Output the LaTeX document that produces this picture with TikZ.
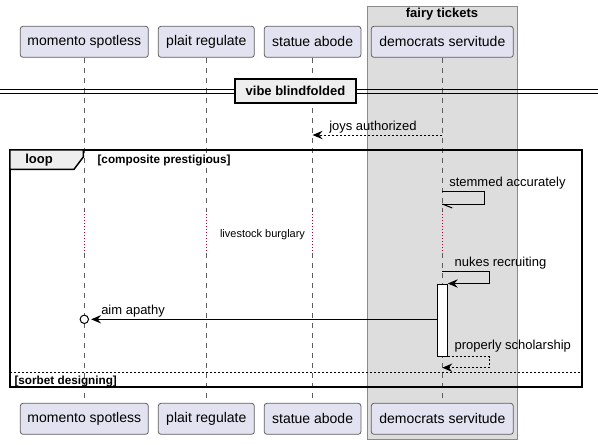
\documentclass[tikz,border=0pt]{standalone}
\usepackage{fontspec}
\setmainfont{Liberation Sans}
\usetikzlibrary{arrows.meta}

\definecolor{partfill}{HTML}{E2E2F0}
\definecolor{partline}{HTML}{5E5E5E}
\definecolor{groupfill}{HTML}{DDDDDD}
\definecolor{groupline}{HTML}{8A8A8A}
\definecolor{tabfill}{HTML}{EEEEEE}
\definecolor{delayred}{HTML}{A80036}

\tikzset{
  participant/.style={draw=partline, fill=partfill, rounded corners=2pt, line width=0.6pt,
    minimum height=23.25pt, inner sep=0pt, font=\fontsize{10.5}{12}\selectfont},
  lifeline/.style={draw=partline, line width=0.5pt, dash pattern=on 3.75pt off 3.75pt},
  delayline/.style={draw=delayred, line width=0.6pt, dash pattern=on 0.6pt off 1.65pt},
  msg/.style={line width=0.75pt, ->},
  msgtext/.style={anchor=west, inner sep=0pt, font=\fontsize{9.75}{11}\selectfont},
  guard/.style={anchor=west, inner sep=0pt, font=\fontsize{8.8}{10}\selectfont\bfseries},
}

\begin{document}
\begin{tikzpicture}[x=0.75pt,y=0.75pt,yscale=-1,xscale=1,
  >={Stealth[length=7.5pt,width=6.3pt,inset=2.6pt]}]
\useasboundingbox (0,0) rectangle (598,444);

%Shape: Box [fairy tickets]
\draw [draw=groupline, fill=groupfill, line width=0.6pt] (367.7,6) rectangle (517,439.5);
\node [inner sep=0pt, font=\fontsize{9.75}{11}\selectfont\bfseries] (fairy) at (442,14.2) {fairy tickets};

% Participants (top and bottom)
\node [participant, minimum width=96pt] (top-mom) at (84.3,41.8) {momento spotless};
\node [participant, minimum width=72pt] (top-plait) at (206.3,41.8) {plait regulate};
\node [participant, minimum width=72.5pt] (top-statue) at (312.6,41.8) {statue abode};
\node [participant, minimum width=106.5pt] (top-dem) at (442.3,41.8) {democrats servitude};
\node [participant, minimum width=96pt] (bot-mom) at (84.3,418.8) {momento spotless};
\node [participant, minimum width=72pt] (bot-plait) at (206.3,418.8) {plait regulate};
\node [participant, minimum width=72.5pt] (bot-statue) at (312.6,418.8) {statue abode};
\node [participant, minimum width=106.5pt] (bot-dem) at (442.3,418.8) {democrats servitude};

% Lifelines, broken by the delay
\foreach \p in {mom,plait,statue,dem} {
  \draw [lifeline] (top-\p.south) -- (top-\p.south |- 0,211);
  \draw [delayline] (top-\p.south |- 0,211) -- (top-\p.south |- 0,253);
  \draw [lifeline] (top-\p.south |- 0,253) -- (bot-\p.north);
}

%Divider [vibe blindfolded]
\draw [line width=0.75pt] (0,89.5) -- (598,89.5);
\draw [line width=0.75pt] (0,93) -- (598,93);
\node [draw, fill=tabfill, line width=1.4pt, minimum width=90.75pt, minimum height=18.5pt,
  inner sep=0pt, font=\fontsize{9.75}{11}\selectfont\bfseries] (vibe) at (295.5,91) {vibe blindfolded};

%Message [joys authorized]
\coordinate (joys-from) at (top-dem.south |- 0,135);
\coordinate (joys-to) at (top-statue.south |- 0,135);
\draw [msg, dash pattern=on 1.5pt off 1.5pt] (joys-from) -- (joys-to);
\node [msgtext] (joys) at (329,127) {joys authorized};

%Frame [loop]
\draw [line width=1.1pt] (10,150) rectangle (582,387);
\draw [fill=tabfill, line width=1.1pt] (10,150) -- (83.3,150) -- (83.3,157) -- (74,169.3) -- (10,169.3) -- cycle;
\node [inner sep=0pt, font=\fontsize{9.75}{11}\selectfont\bfseries] (loop) at (39,160.3) {loop};
\node [guard] (composite) at (97.3,160.8) {[composite prestigious]};

%Self message [stemmed accurately]
\coordinate (stem-from) at (top-dem.south |- 0,191);
\coordinate (stem-to) at (top-dem.south |- 0,204);
\draw [line width=0.75pt] (stem-from) -- ++(42,0) |- (stem-to);
\draw [line width=0.75pt] (stem-to) -- ++(10,4);
\node [msgtext] (stemmed) at (449,183.3) {stemmed accurately};

% Delay text
\node [inner sep=0pt, font=\fontsize{8.25}{10}\selectfont] (livestock) at (262.5,234.5) {livestock burglary};

% Activation
\node [draw, fill=white, line width=0.75pt, minimum width=7.5pt, minimum height=54pt, inner sep=0pt]
  (act) at (top-dem.south |- 0,320) {};

%Self message [nukes recruiting]
\coordinate (nukes-from) at (top-dem.south |- 0,271.3);
\draw [msg] (nukes-from) -- ++(47,0) |- (act.north east);
\node [msgtext] (nukes) at (454.3,263) {nukes recruiting};

%Message [aim apathy]
\node [circle, draw, fill=white, line width=0.75pt, minimum size=6.3pt, inner sep=0pt]
  (apathy-end) at (top-mom.south |- 0,319.3) {};
\draw [msg, shorten >=1.6pt] (act.west |- apathy-end) -- (apathy-end.east);
\node [msgtext] (apathy) at (101,311.3) {aim apathy};

%Return [properly scholarship]
\coordinate (prop-to) at (top-dem.south |- 0,367.7);
\draw [msg, dash pattern=on 1.5pt off 1.5pt] (act.south east) -- ++(41.6,0) |- (prop-to);
\node [msgtext] (properly) at (454.3,345.8) {properly scholarship};

%Else separator [sorbet designing]
\draw [line width=0.75pt, dash pattern=on 1.5pt off 1.5pt] (10,372) -- (582,372);
\node [guard] (sorbet) at (14.3,381) {[sorbet designing]};

\end{tikzpicture}
\end{document}
